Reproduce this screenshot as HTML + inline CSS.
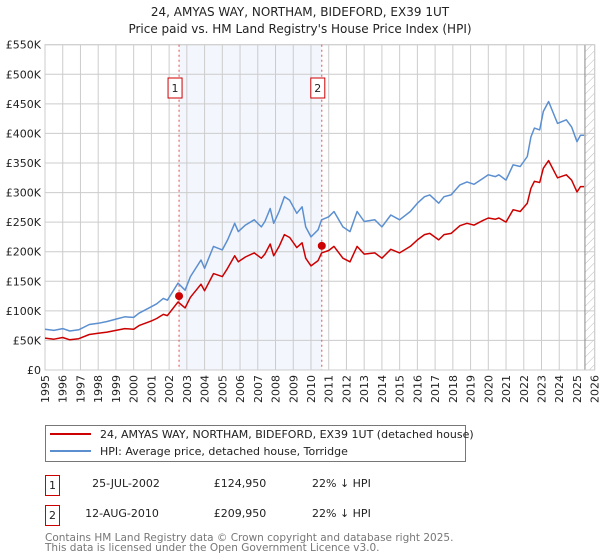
<!DOCTYPE html>
<html><head><meta charset="utf-8"><style>
body{margin:0;background:#fff;font-family:"DejaVu Sans","Liberation Sans",sans-serif;}
svg{display:block}
</style></head><body>
<svg id="c" width="600" height="560" xmlns="http://www.w3.org/2000/svg" font-family="DejaVu Sans, Liberation Sans, sans-serif">
<defs><pattern id="hatch" width="6" height="6" patternUnits="userSpaceOnUse" patternTransform="rotate(45)"><line x1="0" y1="0" x2="0" y2="6" stroke="#bbb" stroke-width="1"/></pattern></defs>
<text x="300" y="16" text-anchor="middle" font-size="12" fill="#222">24, AMYAS WAY, NORTHAM, BIDEFORD, EX39 1UT</text>
<text x="300" y="33" text-anchor="middle" font-size="12" fill="#222">Price paid vs. HM Land Registry's House Price Index (HPI)</text>
<g id="plot"></g>
<g>
<rect x="45.5" y="425.5" width="420" height="36" fill="#fff" stroke="#777"/>
<line x1="50" y1="434" x2="91" y2="434" stroke="#cc0000" stroke-width="2"/>
<text x="100" y="438" font-size="11" fill="#222">24, AMYAS WAY, NORTHAM, BIDEFORD, EX39 1UT (detached house)</text>
<line x1="50" y1="451" x2="91" y2="451" stroke="#5b8fd0" stroke-width="2"/>
<text x="100" y="455" font-size="11" fill="#222">HPI: Average price, detached house, Torridge</text>
</g>
<g font-size="11" fill="#222">
<rect x="45.5" y="475.5" width="14" height="20" fill="#fff" stroke="#cc0000"/>
<text x="52.5" y="489" text-anchor="middle">1</text>
<text x="126" y="487" text-anchor="middle">25-JUL-2002</text>
<text x="240" y="487" text-anchor="middle">£124,950</text>
<text x="312" y="487">22% ↓ HPI</text>
<rect x="45.5" y="505.5" width="14" height="20" fill="#fff" stroke="#cc0000"/>
<text x="52.5" y="519" text-anchor="middle">2</text>
<text x="122" y="517" text-anchor="middle">12-AUG-2010</text>
<text x="240" y="517" text-anchor="middle">£209,950</text>
<text x="312" y="517">22% ↓ HPI</text>
</g>
<text x="45" y="541" font-size="10.5" fill="#777">Contains HM Land Registry data © Crown copyright and database right 2025.</text>
<text x="45" y="551" font-size="10.5" fill="#777">This data is licensed under the Open Government Licence v3.0.</text>
</svg>
<script>
const yTicks=[0,50,100,150,200,250,300,350,400,450,500,550];
const yTickLabels=["£0","£50K","£100K","£150K","£200K","£250K","£300K","£350K","£400K","£450K","£500K","£550K"];
const years=[1995,1996,1997,1998,1999,2000,2001,2002,2003,2004,2005,2006,2007,2008,2009,2010,2011,2012,2013,2014,2015,2016,2017,2018,2019,2020,2021,2022,2023,2024,2025,2026];
const hpiT=[1995.0,1995.5,1996.0,1996.4,1996.9,1997.5,1998.0,1998.5,1999.0,1999.5,2000.0,2000.3,2001.0,2001.3,2001.67,2001.9,2002.5,2002.9,2003.2,2003.8,2004.0,2004.5,2005.0,2005.3,2005.7,2005.9,2006.3,2006.8,2007.2,2007.4,2007.7,2007.9,2008.2,2008.5,2008.8,2009.2,2009.5,2009.7,2010.0,2010.4,2010.6,2011.0,2011.3,2011.8,2012.2,2012.6,2013.0,2013.6,2014.0,2014.5,2015.0,2015.6,2016.0,2016.4,2016.7,2017.2,2017.5,2017.9,2018.4,2018.8,2019.2,2019.7,2020.0,2020.4,2020.6,2021.0,2021.4,2021.8,2022.2,2022.4,2022.6,2022.9,2023.1,2023.4,2023.9,2024.4,2024.7,2025.0,2025.2,2025.4];
const hpiV=[69,67,70,66,68,77,79,82,86,90,89,96,107,112,121,118,147,135,158,186,172,209,203,220,248,234,245,254,242,251,273,248,268,293,287,265,276,242,225,237,254,259,268,242,234,268,251,254,242,262,254,268,282,293,296,282,293,296,313,318,314,324,330,327,330,321,347,344,361,394,409,406,437,454,417,423,411,386,397,397,409,392];
const redT=hpiT;
const redV=[54,52,55,51,53,60,62,64,67,70,69,75,83,87,94,92,115,105,123,145,134,163,158,172,193,183,191,198,189,196,213,193,209,229,224,207,215,189,176,185,198,202,209,189,183,209,196,198,189,204,198,209,220,229,231,220,229,231,244,248,245,253,257,255,257,250,271,268,282,307,319,317,341,354,325,330,321,301,310,310,319,306];
const saleT=[2002.56,2010.61];
const saleV=[124.95,209.95];
const saleLabels=["1","2"];
const L=45,R=594.7,T=44.7,B=370,X0=1995,X1=2026,YMAX=550;
const sx=t=>L+(t-X0)*(R-L)/(X1-X0);
const sy=v=>B-v*(B-T)/YMAX;
const NS="http://www.w3.org/2000/svg";
const g=document.getElementById('plot');
function mk(tag,attrs,parent){const e=document.createElementNS(NS,tag);for(const k in attrs)e.setAttribute(k,attrs[k]);(parent||g).appendChild(e);return e;}
let sh=mk('rect',{x:sx(saleT[0]),y:T,width:sx(saleT[1])-sx(saleT[0]),height:B-T,fill:'#f3f6fd'});


let hz=mk('rect',{x:sx(2025.45),y:T,width:R-sx(2025.45),height:B-T,fill:'url(#hatch)'});


yTicks.forEach((v,i)=>{
 let ln=mk('line',{x1:L,x2:R,y1:sy(v),y2:sy(v),stroke:'#ccc','stroke-width':1});
 
 
 let tx=mk('text',{x:L-4,y:sy(v)+4,'text-anchor':'end','font-size':11,fill:'#222'});
 tx.textContent=yTickLabels[i];
 
 
});
years.forEach(y=>{
 let ln=mk('line',{x1:sx(y),x2:sx(y),y1:T,y2:B,stroke:'#ccc','stroke-width':1});
 
 
 let tx=mk('text',{x:0,y:0,'text-anchor':'end','font-size':11,fill:'#222',transform:`translate(${sx(y)+4},${B+5}) rotate(-90)`});
 tx.textContent=y;
 
 
});
let vl=mk('line',{x1:sx(2025.45),x2:sx(2025.45),y1:T,y2:B,stroke:'#888','stroke-width':1});


let fr=mk('rect',{x:L,y:T,width:R-L,height:B-T,fill:'none',stroke:'#ccc'});


saleT.forEach((t,i)=>{
 let d=mk('line',{x1:sx(t),x2:sx(t),y1:T,y2:B,stroke:'#e05050','stroke-width':1,'stroke-dasharray':'2,3'});
 
 
 let b=mk('rect',{x:sx(t)-11,y:78,width:14,height:20,fill:'#fff',stroke:'#cc0000'});
 
 
 let tx=mk('text',{x:sx(t)-4,y:92,'text-anchor':'middle','font-size':11,fill:'#222'});
 tx.textContent=saleLabels[i];
 
 
});
function path(ts,vs){return ts.map((t,i)=>(i?'L':'M')+sx(t).toFixed(1)+','+sy(vs[i]).toFixed(1)).join('');}
let hp=mk('path',{d:path(hpiT,hpiV),fill:'none',stroke:'#5b8fd0','stroke-width':1.5,'stroke-linejoin':'round'});


let rp=mk('path',{d:path(redT,redV),fill:'none',stroke:'#cc0000','stroke-width':1.5,'stroke-linejoin':'round'});


saleT.forEach((t,i)=>{
 let c=mk('circle',{cx:sx(t),cy:sy(saleV[i]),r:4,fill:'#cc0000'});
 
 
});
</script>
</body></html>
